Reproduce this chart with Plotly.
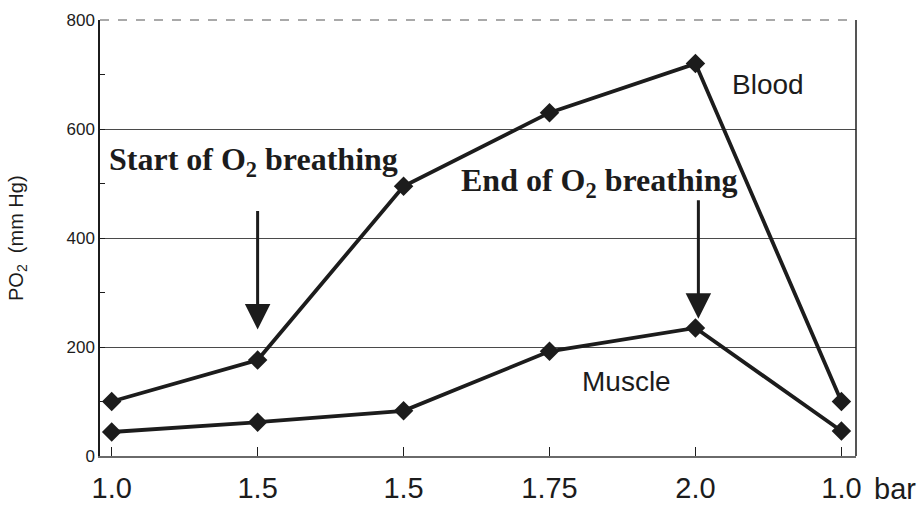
import plotly.graph_objects as go

# ---- data ----
pressure_labels = ["1.0", "1.5", "1.5", "1.75", "2.0", "1.0"]   # bar
step_index = [0, 1, 2, 3, 4, 5]
blood_po2 = [100, 176, 495, 630, 720, 100]
muscle_po2 = [44, 62, 83, 192, 235, 46]
y_ticks = [0, 200, 400, 600, 800]

# arrow tips (step index, PO2 value)
start_arrow = (1.0, 232)
end_arrow = (4.02, 252)

INK = "#1c1c1c"
fig = go.Figure()

for vals in (blood_po2, muscle_po2):
    fig.add_trace(go.Scatter(
        x=step_index, y=vals, mode="lines+markers",
        line=dict(color=INK, width=3.8),
        marker=dict(symbol="diamond", size=15, color=INK),
        showlegend=False, hoverinfo="skip"))

fig.update_layout(
    width=920, height=506,
    margin=dict(l=100, r=64, t=20, b=50, autoexpand=False),
    paper_bgcolor="white", plot_bgcolor="white",
    showlegend=False,
)

fig.update_xaxes(
    automargin=False,
    range=[-0.08, 5.1],
    tickmode="array", tickvals=step_index, ticktext=pressure_labels,
    ticks="inside", ticklen=9, tickwidth=1.2, tickcolor=INK,
    tickfont=dict(family="Liberation Sans, Arial", size=29, color=INK),
    ticklabelstandoff=5,
    showgrid=False, zeroline=False,
    showline=True, linecolor="#6a6a6a", linewidth=1.5, mirror=False,
)

fig.update_yaxes(
    automargin=False,
    range=[0, 800],
    tickmode="array", tickvals=y_ticks,
    ticks="inside", ticklen=5, tickcolor=INK,
    minor=dict(ticks="inside", ticklen=5, tickcolor=INK, dtick=100, showgrid=False),
    tickfont=dict(family="Liberation Sans, Arial", size=17, color=INK),
    showgrid=True, gridcolor="#4a4a4a", gridwidth=1,
    zeroline=False,
    showline=True, linecolor=INK, linewidth=1.5, mirror=False,
)

# right border and faded top border
fig.add_shape(type="line", xref="paper", yref="paper", x0=1, x1=1, y0=0, y1=1,
              line=dict(color=INK, width=1.5))
fig.add_shape(type="line", xref="paper", yref="paper", x0=0, x1=1, y0=1, y1=1,
              line=dict(color="#555555", width=1.2, dash="dash"))

serif = dict(family="Liberation Serif, Times New Roman", size=32, color=INK)
sans = dict(family="Liberation Sans, Arial", size=28, color=INK)

fig.add_annotation(x=0.975, y=540, text="<b>Start of O<sub>2</sub> breathing</b>",
                   showarrow=False, font=serif, xanchor="center", yanchor="middle")
fig.add_annotation(x=3.34, y=502, text="<b>End of O<sub>2</sub> breathing</b>",
                   showarrow=False, font=serif, xanchor="center", yanchor="middle")
fig.add_annotation(x=4.5, y=682, text="Blood", showarrow=False, font=sans,
                   xanchor="center", yanchor="middle")
fig.add_annotation(x=3.53, y=136, text="Muscle", showarrow=False, font=sans,
                   xanchor="center", yanchor="middle")

for tip in (start_arrow, end_arrow):
    fig.add_annotation(x=tip[0], y=tip[1], ax=0, ay=-120, text="",
                       showarrow=True, arrowhead=2, arrowsize=1.7,
                       arrowwidth=3, arrowcolor=INK)

# y title and unit label
fig.add_annotation(xref="paper", yref="paper", x=(17 - 100) / 756, y=0.5,
                   text="PO<sub>2</sub>  (mm Hg)", textangle=-90, showarrow=False,
                   font=dict(family="Liberation Sans, Arial", size=20, color=INK),
                   xanchor="center", yanchor="middle")
fig.add_annotation(xref="paper", yref="paper", x=(895 - 100) / 756, y=-33 / 436,
                   text="bar", showarrow=False,
                   font=dict(family="Liberation Sans, Arial", size=29, color=INK),
                   xanchor="center", yanchor="middle")

fig.write_html("out.html",
               config={"displayModeBar": False},
               post_script="document.body.style.margin='0px';"
                           "document.body.style.overflow='hidden';")
